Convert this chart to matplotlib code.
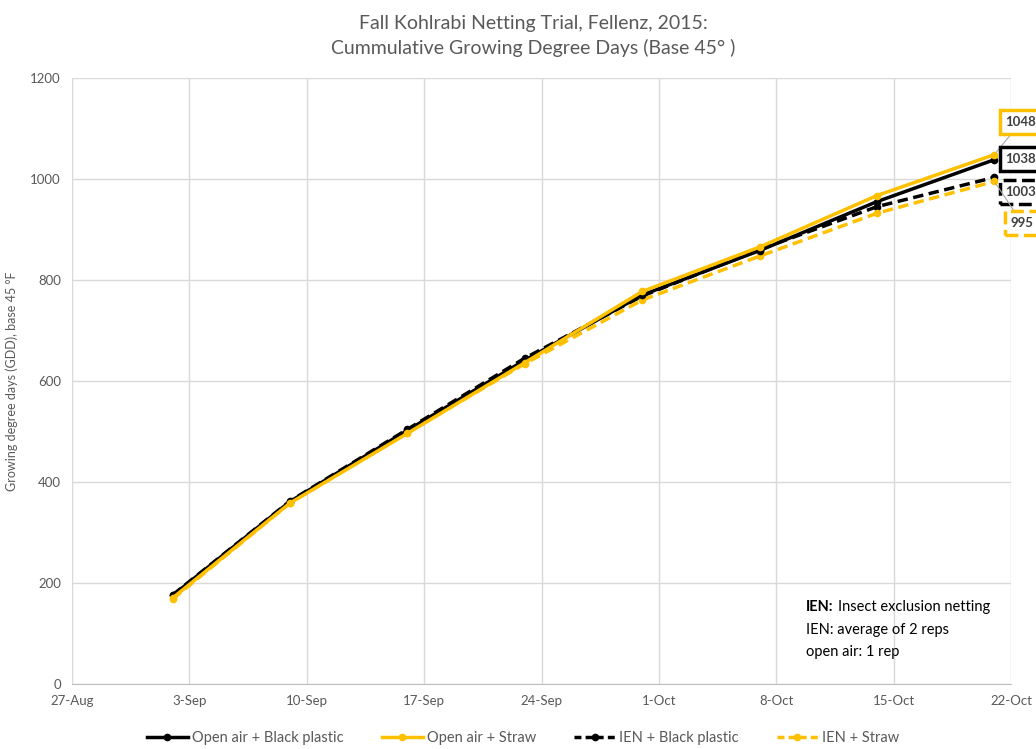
import numpy as np
import matplotlib
matplotlib.use("Agg")
import matplotlib.pyplot as plt
import matplotlib.dates as mdates
from matplotlib.lines import Line2D

plt.rcParams["font.family"] = ["Lato", "DejaVu Sans"]

# weekly readings (2015)
dates = np.array(["2015-09-02", "2015-09-09", "2015-09-16", "2015-09-23",
                  "2015-09-30", "2015-10-07", "2015-10-14", "2015-10-21"],
                 dtype="datetime64[D]")

open_black = [175, 361, 502, 641, 770, 858, 955, 1038]
open_straw = [170, 358, 496, 636, 777, 865, 967, 1048]
ien_black = [176, 362, 504, 645, 768, 860, 945, 1003]
ien_straw = [168, 358, 497, 634, 760, 847, 932, 995]

series_names = ["Open air + Black plastic", "Open air + Straw",
                "IEN + Black plastic", "IEN + Straw"]

tick_dates = np.arange(np.datetime64("2015-08-27"), np.datetime64("2015-10-23"), 7)

BLACK = "#000000"
GOLD = "#FFC000"
GREY = "#595959"

fig = plt.figure(figsize=(10.36, 7.49), dpi=100)
ax = fig.add_axes([0.0695, 0.087, 0.9065, 0.809])

styles = [
    (open_black, BLACK, "-"),
    (open_straw, GOLD, "-"),
    (ien_black, BLACK, (0, (3, 1.6))),
    (ien_straw, GOLD, (0, (3, 1.6))),
]
# dashed first, solid on top
for vals, col, ls in [styles[2], styles[3], styles[0], styles[1]]:
    ax.plot(dates, vals, color=col, linestyle=ls, linewidth=2.5,
            marker="o", markersize=5.5, markeredgewidth=0, zorder=3)

ax.set_xlim(tick_dates[0], tick_dates[-1])
ax.set_ylim(0, 1200)
ax.set_yticks(np.arange(0, 1201, 200))
ax.set_xticks(tick_dates)
ax.xaxis.set_major_formatter(mdates.DateFormatter("%-d-%b"))

ax.grid(True, color="#d9d9d9", linewidth=1)
ax.set_axisbelow(True)
for s in ["top", "right", "left"]:
    ax.spines[s].set_visible(False)
ax.spines["bottom"].set_color("#bfbfbf")
ax.tick_params(axis="both", length=0, labelsize=9.5, labelcolor=GREY, pad=8)

ax.set_ylabel("Growing degree days (GDD), base 45 \u00b0F", fontsize=9,
              color=GREY)
ax.yaxis.set_label_coords(-0.057, 0.5)
fig.text(0.515, 0.968, "Fall Kohlrabi Netting Trial, Fellenz, 2015:",
         ha="center", va="center", fontsize=14, color=GREY)
fig.text(0.515, 0.936, "Cummulative Growing Degree Days (Base 45\u00b0 )",
         ha="center", va="center", fontsize=14, color=GREY)

# end-of-season data labels
label_info = [
    (open_straw[-1], GOLD, "-", (1021, 627), True),
    (open_black[-1], BLACK, "-", (1021, 590), False),
    (ien_black[-1], BLACK, "--", (1021, 557), False),
    (ien_straw[-1], GOLD, "--", (1022, 526), True),
]
for val, col, ls, pos, leader in label_info:
    arrow = dict(arrowstyle="-", color="#a6a6a6", lw=0.8,
                 shrinkA=0, shrinkB=2) if leader else None
    ax.annotate(str(val), xy=(dates[-1], val), xytext=pos,
                textcoords="figure pixels", ha="center", va="center",
                fontsize=9.5, fontweight="bold", color="#404040",
                bbox=dict(boxstyle="square,pad=0.45", fc="white", ec=col,
                          lw=2.5, ls=ls),
                arrowprops=arrow, annotation_clip=False, zorder=5)

# note text, bold prefix on first line
note_x = 806
bold = fig.text(note_x, 749 - 607, "IEN:", fontsize=10.5, fontweight="bold",
                color=BLACK, va="center", transform=None)
fig.canvas.draw()
bw = bold.get_window_extent().width
fig.text(note_x + bw + 4, 749 - 607, "Insect exclusion netting", fontsize=10.5,
         color=BLACK, va="center", transform=None)
fig.text(note_x, 749 - 630, "IEN: average of 2 reps", fontsize=10.5,
         color=BLACK, va="center", transform=None)
fig.text(note_x, 749 - 652, "open air: 1 rep", fontsize=10.5, color=BLACK,
         va="center", transform=None)

handles = [
    Line2D([], [], color=BLACK, lw=2.5, marker="o", ms=5.5, mew=0),
    Line2D([], [], color=GOLD, lw=2.5, marker="o", ms=5.5, mew=0),
    Line2D([], [], color=BLACK, lw=2.5, ls=(0, (2, 1.2)), marker="o", ms=5.5, mew=0),
    Line2D([], [], color=GOLD, lw=2.5, ls=(0, (2, 1.2)), marker="o", ms=5.5, mew=0),
]
fig.legend(handles, series_names, loc="center", bbox_to_anchor=(0.505, 0.015),
           ncol=4, frameon=False, fontsize=10.5, labelcolor=GREY,
           handlelength=2.8, handletextpad=0.3, columnspacing=2.6)

fig.savefig("out.png", dpi=100)
